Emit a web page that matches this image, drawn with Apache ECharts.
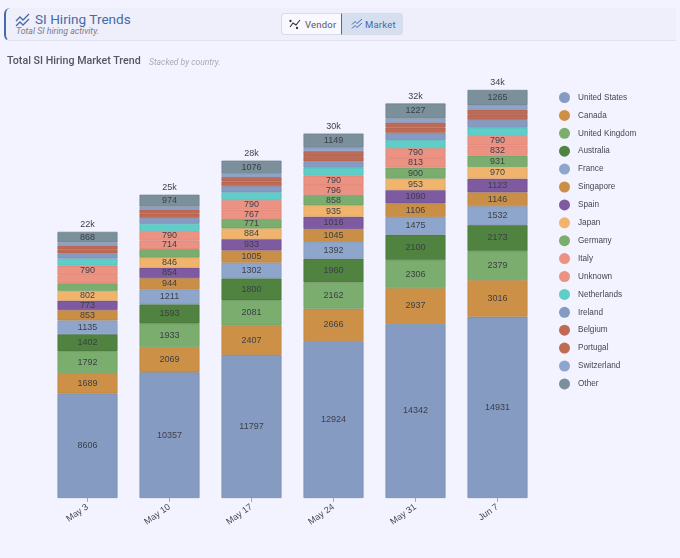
<!DOCTYPE html>
<html><head><meta charset="utf-8">
<script src="https://cdn.jsdelivr.net/npm/echarts@6/dist/echarts.min.js"></script>
<style>
html,body{margin:0;padding:0;width:680px;height:558px;background:#f3f2ff;overflow:hidden;font-family:Roboto,sans-serif}
#hdr{position:absolute;left:4px;top:8px;width:672px;height:33px;box-sizing:border-box;background:#eeeffb;border-left:2.5px solid #4a6aa5;border-bottom:1px solid #e2e3f0;border-radius:6px 0 0 6px}
#t1{position:absolute;left:35px;top:10px;font-size:13.6px;font-weight:400;color:#466aa8;line-height:18px}
#t2{position:absolute;left:16px;top:26px;font-size:8.8px;font-style:italic;color:#7a7c8a;line-height:11px}
.btn{position:absolute;top:13px;height:22px;box-sizing:border-box;font-size:9.5px;font-weight:400;letter-spacing:.2px;line-height:21px;border:1px solid #d8dbe8}
#b1{left:281px;width:61px;background:#f8f8fe;color:#55565f;border-radius:4px 0 0 4px;border-right:1.5px solid #4a6aa5;padding-left:23px}
#b2{left:342px;width:61px;background:#d5dff0;color:#466aa8;border-radius:0 4px 4px 0;padding-left:23px;border-left:0}
svg.i{position:absolute}
#t3{position:absolute;left:7px;top:54px;font-size:10.7px;font-weight:500;color:#55565f;line-height:14px}
#t4{position:absolute;left:149px;top:56px;font-size:8.5px;font-style:italic;color:#a9aab6;line-height:12px}
#c{position:absolute;left:0;top:0;width:680px;height:558px}
</style></head><body>
<div id="c"></div>
<div id="hdr"></div>
<svg class="i" style="left:15px;top:12px" width="16" height="16" viewBox="0 0 16 16" fill="none" stroke="#466aa8" stroke-width="1.3"><polyline points="1,9 5,5 8,8 14,2"/><polyline points="1,14 5,10 8,13 14,7"/></svg>
<div id="t1">SI Hiring Trends</div>
<div id="t2">Total SI hiring activity.</div>
<div class="btn" id="b1">Vendor</div>
<div class="btn" id="b2">Market</div>
<svg class="i" style="left:289px;top:18px" width="12" height="12" viewBox="0 0 12 12" fill="none" stroke="#333" stroke-width="1.1"><polyline points="1,9 4,5 7,7 11,2"/><circle cx="1.5" cy="3" r=".6"/><circle cx="8" cy="10" r=".6"/></svg>
<svg class="i" style="left:351px;top:18px" width="12" height="12" viewBox="0 0 12 12" fill="none" stroke="#466aa8" stroke-width="1"><polyline points="1,6.5 4,3.5 6,5.5 11,1"/><polyline points="1,10.5 4,7.5 6,9.5 11,5"/></svg>
<div id="t3">Total SI Hiring Market Trend</div>
<div id="t4">Stacked by country.</div>
<script>
const weeks = ['May 3','May 10','May 17','May 24','May 31','Jun 7'];
const unitedStates = [8606,10357,11797,12924,14342,14931];
const canada = [1689,2069,2407,2666,2937,3016];
const unitedKingdom = [1792,1933,2081,2162,2306,2379];
const australia = [1402,1593,1800,1960,2100,2173];
const france = [1135,1211,1302,1392,1475,1532];
const singapore = [853,944,1005,1045,1106,1146];
const spain = [773,854,933,1016,1090,1123];
const japan = [802,846,884,935,953,970];
const germany = [630,680,771,858,900,931];
const italy = [660,714,767,796,813,832];
const unknown = [790,790,790,790,790,790];
const netherlands = [600,590,640,660,670,690];
const ireland = [410,480,500,520,600,620];
const belgium = [330,350,380,420,420,430];
const portugal = [330,350,380,420,420,430];
const switzerland = [250,240,270,300,340,350];
const other = [868,974,1076,1149,1227,1265];
const names = ['United States','Canada','United Kingdom','Australia','France','Singapore','Spain','Japan','Germany','Italy','Unknown','Netherlands','Ireland','Belgium','Portugal','Switzerland','Other'];
const values = [unitedStates,canada,unitedKingdom,australia,france,singapore,spain,japan,germany,italy,unknown,netherlands,ireland,belgium,portugal,switzerland,other];
const colors = ['#869bc2','#cc9147','#7aad6e','#508240','#8fa6cc','#c98f47','#7e5aa0','#f0b46c','#7aad6e','#ec9283','#ec9283','#5fcdc8','#869bc2','#bf6a55','#bf6a55','#8fa6cc','#7b909b'];
const borders = ['#75899f','#b98240','#6d9d62','#477439','#7f95ba','#b78140','#704f90','#dca261','#6d9d62','#d98274','#d98274','#55b9b4','#7589af','#ab5e4b','#ab5e4b','#7f95ba','#6c808b'];
const totals = weeks.map((_,i)=>values.reduce((s,a)=>s+a[i],0));
const series = names.map((n,k)=>({
  name:n,type:'bar',stack:'t',barWidth:60,data:values[k],
  itemStyle:{color:colors[k],borderColor:borders[k],borderWidth:0.7},
  label:{show:true,position:'inside',fontFamily:'Liberation Sans',fontSize:9,color:'#3c3f48',
    formatter:p=>p.value>=700?p.value:''}
}));
series.push({name:'Total',type:'line',data:totals,symbol:'circle',symbolSize:1,showSymbol:true,
  itemStyle:{color:'transparent',borderWidth:0},lineStyle:{opacity:0},silent:true,
  label:{show:true,position:'top',distance:2,fontFamily:'Liberation Sans',fontSize:9,color:'#3c3f48',
    formatter:p=>Math.round(p.value/1000)+'k'}});
const chart = echarts.init(document.getElementById('c'));
chart.setOption({
  animation:false,backgroundColor:'transparent',
  grid:{left:46.5,width:492,top:73,height:425},
  legend:{data:names.map(n=>({name:n,itemStyle:{borderWidth:0}})),orient:'vertical',left:554,top:87,icon:'circle',itemWidth:17,itemHeight:11,itemGap:6.9,
    textStyle:{fontFamily:'Liberation Sans',fontSize:8.2,color:'#45464f'}},
  xAxis:{type:'category',data:weeks,axisLine:{show:false},axisTick:{show:true,length:4,alignWithLabel:true,lineStyle:{color:'#aaa'}},
    axisLabel:{rotate:35,fontFamily:'Liberation Sans',fontSize:9,color:'#45464f',margin:8,interval:0}},
  yAxis:{type:'value',min:0,max:35000,show:false,splitLine:{show:false}},
  series
});
</script>
</body></html>
